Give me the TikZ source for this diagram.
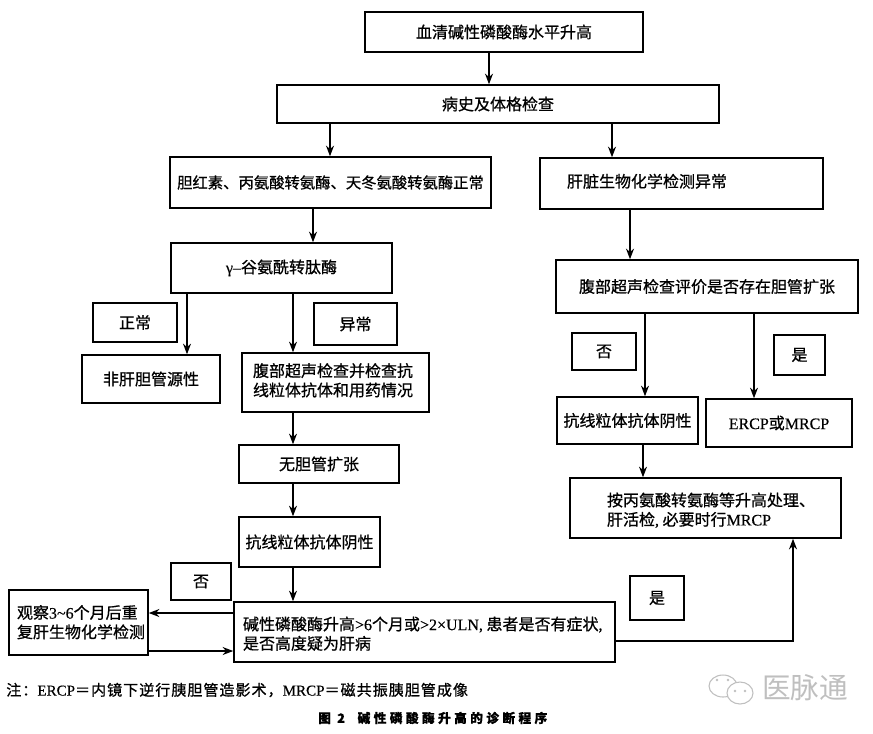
\documentclass[tikz,border=0pt]{standalone}
\usepackage{fontspec}
\setmainfont{Noto Sans CJK SC}[FakeBold=0.8]
\newfontfamily\wmfont{Noto Sans CJK SC}
\newfontfamily\lf{Liberation Serif}[FakeBold=0.4]
\usetikzlibrary{arrows.meta}
\newlength\bxw
\newlength\bxp
\tikzset{
  boxnode/.style={draw=black,line width=1.1pt,inner sep=0pt,align=center,font=\fontsize{12pt}{14.5pt}\selectfont},
  arr/.style={line width=1pt,-{Stealth[length=8pt,width=6pt]}},
  wm/.style={draw=black!25,line width=0.8pt,fill=white},
  wmeye/.style={fill=black!25,draw=none}
}
\newcommand{\bx}[6]{\node[boxnode,minimum width={(#4-#2)*0.75pt},minimum height={(#5-#3)*0.75pt}] (#1) at ({(#2+#4)/2},{(#3+#5)/2}) {#6};}
% left-aligned text: #6 = left padding in px of the text inside the box
\newcommand{\lbx}[7]{\pgfmathsetlength\bxw{(#4-#2)*0.75pt}\pgfmathsetlength\bxp{#6*0.75pt}%
  \node[boxnode,minimum width={(#4-#2)*0.75pt},minimum height={(#5-#3)*0.75pt}] (#1) at ({(#2+#4)/2},{(#3+#5)/2}) {\makebox[\bxw][l]{\hspace*{\bxp}\begin{tabular}{@{}l@{}}#7\end{tabular}}};}
\newcommand{\vc}[3]{\draw[arr] (#1.south -| #3,0) -- (#2.north -| #3,0);}
\begin{document}
\begin{tikzpicture}[x=0.75pt,y=-0.75pt]
\useasboundingbox (0,0) rectangle (873,733);
\bx{top}{365}{12}{643}{52}{血清碱性磷酸酶水平升高}
\bx{hist}{277}{85}{719}{123}{病史及体格检查}
\bx{bili}{170}{157}{491}{208}{\fontsize{11.5pt}{14pt}\selectfont 胆红素、丙氨酸转氨酶、天冬氨酸转氨酶正常}
\lbx{liver}{540}{158}{823}{209}{27}{肝脏生物化学检测异常}
\bx{ggt}{171}{243}{392}{293}{{\lf γ–}谷氨酰转肽酶}
\bx{zc}{93}{303}{177}{342}{正常}
\bx{yc}{314}{303}{397}{345}{异常}
\bx{fei}{82}{355}{220}{403}{非肝胆管源性}
\lbx{ultl}{242}{353}{429}{412}{11}{腹部超声检查并检查抗\\线粒体抗体和用药情况}
\bx{wu}{239}{445}{399}{483}{无胆管扩张}
\bx{amal}{239}{517}{380}{567}{抗线粒体抗体阴性}
\bx{noa}{171}{563}{231}{600}{否}
\lbx{obs}{9}{590}{148}{655}{8}{\rule{0pt}{13pt}观察{\lf 3\textasciitilde 6}个月后重\\复肝生物化学检测}
\lbx{alp}{234}{602}{615}{662}{9}{\rule{0pt}{16pt}碱性磷酸酶升高{\lf >6}个月或{\lf >2×ULN,} 患者是否有症状{\lf ,}\\是否高度疑为肝病}
\bx{yesa}{630}{576}{684}{620}{是}
\lbx{act}{570}{478}{841}{538}{37}{\rule{0pt}{16pt}按丙氨酸转氨酶等升高处理、\\肝活检{\lf ,} 必要时行{\lf MRCP}}
\bx{ultr}{556}{260}{858}{313}{腹部超声检查评价是否存在胆管扩张}
\bx{nob}{572}{333}{636}{370}{否}
\bx{yesb}{774}{335}{825}{375}{是}
\bx{amar}{557}{397}{698}{444}{抗线粒体抗体阴性}
\bx{ercp}{706}{399}{852}{447}{{\lf ERCP}或{\lf MRCP}}
\vc{top}{hist}{489}
\vc{hist}{bili}{330}
\vc{hist}{liver}{612}
\vc{bili}{ggt}{313}
\vc{liver}{ultr}{630}
\vc{ggt}{fei}{187}
\vc{ggt}{ultl}{293}
\vc{ultl}{wu}{293}
\vc{wu}{amal}{293}
\vc{amal}{alp}{293}
\vc{ultr}{amar}{645}
\vc{ultr}{ercp}{754}
\vc{amar}{act}{643}
\draw[arr] (alp.west |- 0,613) -- (obs.east |- 0,613);
\draw[arr] (obs.east |- 0,651) -- (alp.west |- 0,651);
\draw[arr] (alp.east |- 0,641) -- (793,641) -- (act.south -| 793,0);
\node[font=\fontsize{11.3pt}{14pt}\selectfont\addfontfeature{LetterSpace=6.5},anchor=west,inner sep=0pt] (note) at (6,690) {注：{\lf ERCP}＝内镜下逆行胰胆管造影术，{\lf MRCP}＝磁共振胰胆管成像};
\node[font=\fontsize{9.5pt}{12pt}\selectfont\bfseries\addfontfeature{LetterSpace=27},anchor=west,inner sep=0pt] (cap) at (318,718) {图 2\hspace{1em}碱性磷酸酶升高的诊断程序};
% watermark
\draw[wm] (723,686) ellipse [x radius=14,y radius=11];
\draw[wm] (740,693) ellipse [x radius=13,y radius=11];
\fill[wmeye] (717,680) circle (1.3) (728,680) circle (1.3) (735,691) circle (1.3) (745,691) circle (1.3);
\node[text=black!25,font=\wmfont\fontsize{21.5pt}{24pt}\selectfont,inner sep=0pt] (wmtext) at (805,688) {医脉通};
\end{tikzpicture}
\end{document}
